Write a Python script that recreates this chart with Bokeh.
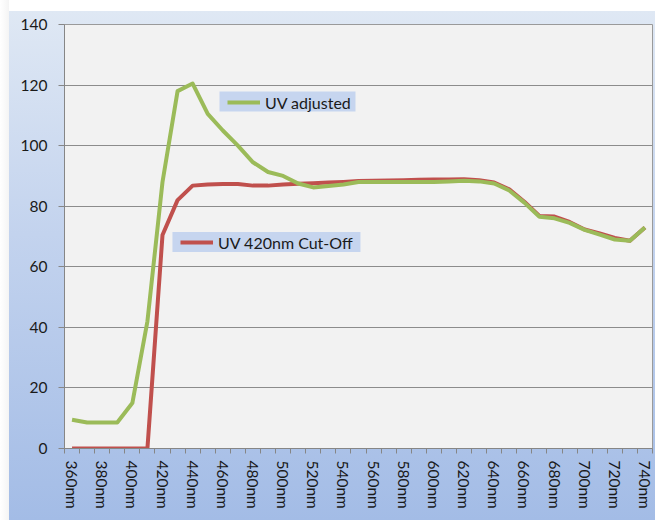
from bokeh.plotting import figure
from bokeh.models import Range1d, FixedTicker, Legend, LegendItem, BoxAnnotation
from bokeh.embed import file_html
from bokeh.resources import INLINE

# ---- data ----
categories = ["360nm", "370nm", "380nm", "390nm", "400nm", "410nm", "420nm", "430nm",
              "440nm", "450nm", "460nm", "470nm", "480nm", "490nm", "500nm", "510nm",
              "520nm", "530nm", "540nm", "550nm", "560nm", "570nm", "580nm", "590nm",
              "600nm", "610nm", "620nm", "630nm", "640nm", "650nm", "660nm", "670nm",
              "680nm", "690nm", "700nm", "710nm", "720nm", "730nm", "740nm"]
uv_cutoff = [0, 0, 0, 0, 0, 0, 70.5, 82.0, 86.8, 87.2, 87.3, 87.3, 86.8, 86.8, 87.2,
             87.4, 87.6, 87.8, 88.0, 88.3, 88.4, 88.5, 88.6, 88.7, 88.8, 88.8, 88.9,
             88.6, 87.8, 85.6, 81.5, 76.8, 76.6, 74.8, 72.3, 71.0, 69.5, 68.6, 73.0]
uv_adjusted = [9.5, 8.6, 8.6, 8.6, 15.0, 42.0, 88.0, 118.0, 120.5, 110.5, 105.0, 100.0,
               94.5, 91.3, 90.0, 87.5, 86.2, 86.7, 87.2, 88.0, 88.0, 88.0, 88.0, 88.0,
               88.0, 88.2, 88.4, 88.2, 87.5, 85.2, 81.2, 76.5, 76.0, 74.5, 72.2, 70.6,
               69.0, 68.6, 73.0]
y_ticks = [0, 20, 40, 60, 80, 100, 120, 140]

n = len(categories)
xs = list(range(n))

FONT = "Lato"
TXT = "#1a1a1a"

p = figure(width=655, height=520, output_backend="svg", toolbar_location=None,
           x_range=Range1d(-0.5, n - 0.5), y_range=Range1d(0, 140),
           min_border_left=64, min_border_right=3, min_border_top=24, min_border_bottom=72)
p.border_fill_color = None
p.styles = {"background": ("linear-gradient(to right, #ffffff 0px, #f4f4f4 9px, transparent 9px), "
                           "linear-gradient(to bottom, #ffffff 0px, #ffffff 11px, #dfe8f4 11px, "
                           "#c3d3ee 45%, #a3bce6 100%)")}
p.background_fill_color = "#f2f2f2"
p.outline_line_color = "#9a9a9a"
p.outline_line_width = 1

# y axis
p.yaxis.ticker = FixedTicker(ticks=y_ticks)
p.yaxis.axis_line_color = "#868686"
p.yaxis.major_tick_line_color = "#868686"
p.yaxis.major_tick_out = 6
p.yaxis.major_tick_in = 0
p.yaxis.minor_tick_line_color = None
p.yaxis.major_label_text_font = FONT
p.yaxis.major_label_text_font_size = "15.5px"
p.yaxis.major_label_text_color = TXT
p.yaxis.major_label_standoff = 11

p.ygrid.ticker = FixedTicker(ticks=y_ticks)
p.ygrid.grid_line_color = "#8c8c8c"
p.ygrid.grid_line_width = 1
p.xgrid.grid_line_color = None

# x axis: labels at every other category, ticks between categories
p.xaxis.ticker = FixedTicker(ticks=xs[::2], minor_ticks=[i - 0.5 for i in range(n + 1)])
p.xaxis.major_label_overrides = {i: categories[i] for i in xs[::2]}
p.xaxis.major_label_orientation = "vertical"
p.xaxis.axis_line_color = "#868686"
p.xaxis.major_tick_out = 0
p.xaxis.major_tick_in = 0
p.xaxis.minor_tick_out = 5
p.xaxis.minor_tick_in = 0
p.xaxis.minor_tick_line_color = "#868686"
p.xaxis.major_label_text_font = FONT
p.xaxis.major_label_text_font_size = "15.5px"
p.xaxis.major_label_text_color = TXT
p.xaxis.major_label_standoff = 7

# label backgrounds
p.add_layout(BoxAnnotation(left=9.78, right=18.8, bottom=111.3, top=117.9,
                           fill_color="#c6d5ef", fill_alpha=1, line_color=None, level="underlay"))
p.add_layout(BoxAnnotation(left=6.66, right=19.13, bottom=64.9, top=71.5,
                           fill_color="#c6d5ef", fill_alpha=1, line_color=None, level="underlay"))

r_red = p.line(xs, uv_cutoff, line_color="#c0504d", line_width=4, line_join="round")
r_green = p.line(xs, uv_adjusted, line_color="#9bbb59", line_width=4, line_join="round")

def make_legend(label, r, loc):
    lg = Legend(items=[LegendItem(label=label, renderers=[r])], location=loc,
                padding=0, margin=0, spacing=0, glyph_width=33, glyph_height=20,
                label_height=20, label_standoff=5, background_fill_alpha=0,
                border_line_color=None, label_text_font=FONT,
                label_text_font_size="16px", label_text_color=TXT)
    return lg

p.add_layout(make_legend("UV adjusted", r_green, (163, 336)))
p.add_layout(make_legend("UV 420nm Cut-Off", r_red, (116, 196)))

open("out.html", "w").write(file_html(p, INLINE))
